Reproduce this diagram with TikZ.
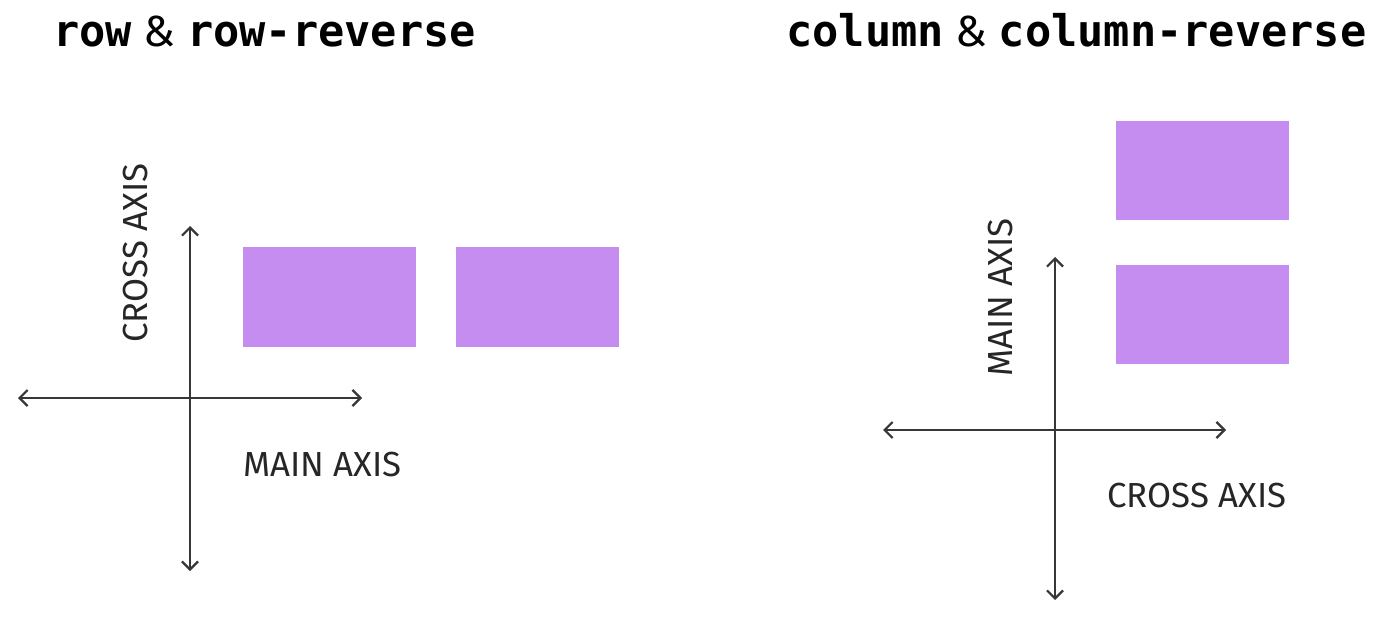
\documentclass[tikz,border=0pt]{standalone}
\usepackage{fontspec}
\setmainfont{Fira Sans}
\setmonofont{DejaVu Sans Mono}
\usetikzlibrary{arrows.meta}

\definecolor{flexitem}{RGB}{198,141,240}
\definecolor{axisgray}{RGB}{55,55,55}

\tikzset{
	item/.style={fill=flexitem},
	axisline/.style={axisgray, line width=1.1pt,
		{Straight Barb[length=4pt,width=8pt]}-{Straight Barb[length=4pt,width=8pt]}},
	axislabel/.style={inner sep=0pt, anchor=base west, text=black!85,
		font=\fontsize{17.4}{20}\selectfont},
	heading/.style={inner sep=0pt, anchor=base west,
		font=\fontsize{21.8}{24}\selectfont},
}

\begin{document}
\begin{tikzpicture}[x=0.5pt,y=-0.5pt]
	\useasboundingbox (0,0) rectangle (1374,620);

	%titles
	\node[heading] (rowtitle) at (53,47) {\texttt{\textbf{row}} \& \texttt{\textbf{row-reverse}}};
	\node[heading] (coltitle) at (786,47) {\texttt{\textbf{column}} \& \texttt{\textbf{column-reverse}}};

	%row axes
	\coordinate (rowW) at (18,398);
	\coordinate (rowE) at (362,398);
	\coordinate (rowN) at (190,226);
	\coordinate (rowS) at (190,571);
	\draw[axisline] (rowW) -- (rowE);
	\draw[axisline] (rowN) -- (rowS);
	\node[axislabel] (rowmain) at (243,476) {MAIN AXIS};
	\node[axislabel, rotate=90] (rowcross) at (147,343) {CROSS AXIS};

	%row items
	\path[item] (243,247) rectangle (416,347);
	\path[item] (456,247) rectangle (619,347);

	%column axes
	\coordinate (colW) at (883,430);
	\coordinate (colE) at (1226,430);
	\coordinate (colN) at (1055,257);
	\coordinate (colS) at (1055,600);
	\draw[axisline] (colW) -- (colE);
	\draw[axisline] (colN) -- (colS);
	\node[axislabel] (colcross) at (1107,507) {CROSS AXIS};
	\node[axislabel, rotate=90] (colmain) at (1012,377) {MAIN AXIS};

	%column items
	\path[item] (1116,121) rectangle (1289,220);
	\path[item] (1116,265) rectangle (1289,364);
\end{tikzpicture}
\end{document}
